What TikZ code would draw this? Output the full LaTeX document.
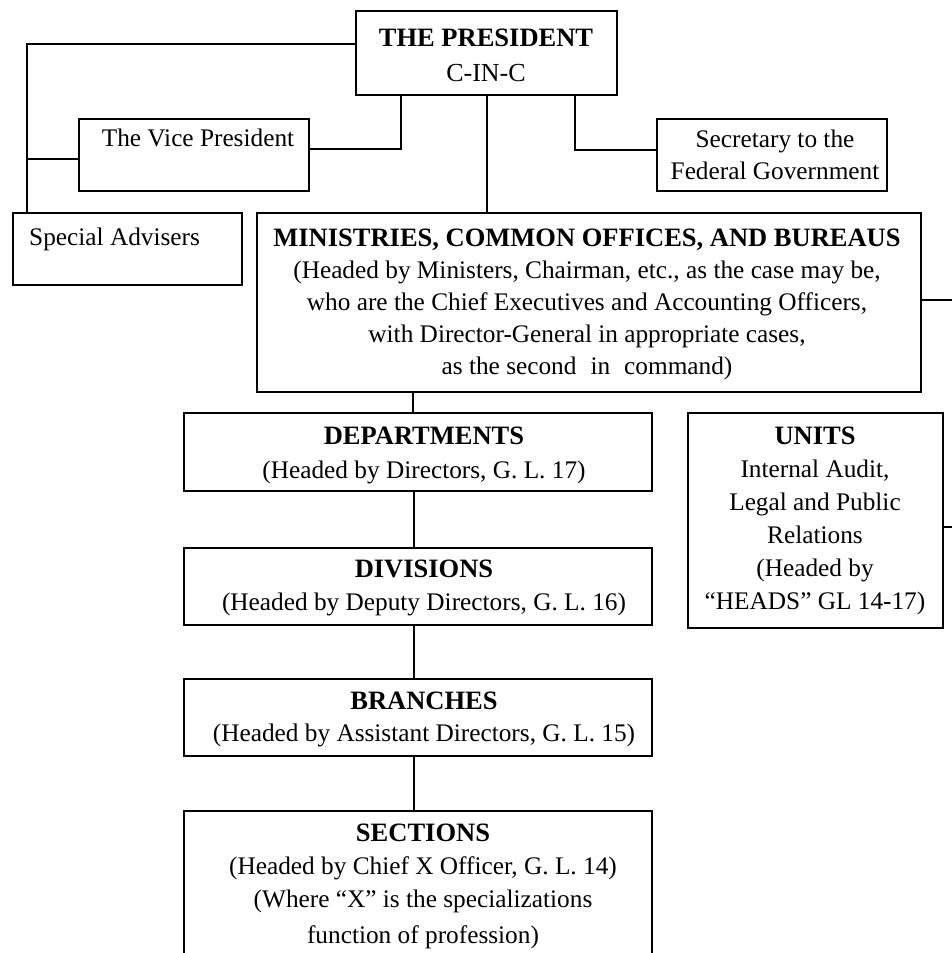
\documentclass[tikz,border=0pt]{standalone}
\usepackage{fontspec}
\setmainfont{Liberation Serif}
\begin{document}
\begin{tikzpicture}[x=1pt,y=-1pt,
  box/.style={draw, rectangle, line width=1.6pt, inner sep=0pt},
  conn/.style={line width=1.6pt},
  txt/.style={anchor=base, inner sep=0pt, font=\fontsize{25.3}{26}\selectfont},
  txtl/.style={anchor=base west, inner sep=0pt, font=\fontsize{25.3}{26}\selectfont},
  ttl/.style={anchor=base, inner sep=0pt, font=\fontsize{26.5}{27}\selectfont\bfseries}]
\clip (0,0) rectangle (952,953);
\fill[white] (0,0) rectangle (952,953);
% boxes
\node[box, minimum width=261pt, minimum height=84pt] (pres) at (486.5,53) {};
\node[box, minimum width=230pt, minimum height=72pt] (vp) at (194,155) {};
\node[box, minimum width=230pt, minimum height=72pt] (sec) at (772,155) {};
\node[box, minimum width=229pt, minimum height=72pt] (sa) at (127.5,249) {};
\node[box, minimum width=664pt, minimum height=179pt] (min) at (589,302.5) {};
\node[box, minimum width=468pt, minimum height=78pt] (dep) at (418,452) {};
\node[box, minimum width=255pt, minimum height=215pt] (units) at (815.5,520.5) {};
\node[box, minimum width=468pt, minimum height=77pt] (div) at (418,586.5) {};
\node[box, minimum width=468pt, minimum height=77pt] (br) at (418,717.5) {};
\node[box, minimum width=468pt, minimum height=168pt] (sect) at (418,895) {};
% texts
\node[ttl] (t1) at (486,46) {THE PRESIDENT};
\node[txt, font=\fontsize{26}{27}\selectfont] (t2) at (486,81) {C-IN-C};
\node[txt] (t3) at (198,146) {The Vice President};
\node[txt] (t4) at (775,147) {Secretary to the};
\node[txt] (t5) at (775,179) {Federal Government};
\node[txtl] (t6) at (29,245) {Special Advisers};
\node[ttl] (t7) at (587,246) {MINISTRIES, COMMON OFFICES, AND BUREAUS};
\node[txt] (t8) at (587,278) {(Headed by Ministers, Chairman, etc., as the case may be,};
\node[txt] (t9) at (587,310) {who are the Chief Executives and Accounting Officers,};
\node[txt] (t10) at (587,342) {with Director-General in appropriate cases,};
\node[txt] (t11) at (587,374) {as the second\hspace{14pt}in\hspace{14pt}command)};
\node[ttl] (t12) at (424,444) {DEPARTMENTS};
\node[txt] (t13) at (424,478) {(Headed by Directors, G. L. 17)};
\node[ttl] (t14) at (815,444) {UNITS};
\node[txt] (t15) at (815,477) {Internal Audit,};
\node[txt] (t16) at (815,510) {Legal and Public};
\node[txt] (t17) at (815,543) {Relations};
\node[txt] (t18) at (815,576) {(Headed by};
\node[txt] (t19) at (815,609) {“HEADS” GL 14-17)};
\node[ttl] (t20) at (424,577) {DIVISIONS};
\node[txt] (t21) at (424,610) {(Headed by Deputy Directors, G. L. 16)};
\node[ttl] (t22) at (424,709) {BRANCHES};
\node[txt] (t23) at (424,741) {(Headed by Assistant Directors, G. L. 15)};
\node[ttl] (t24) at (423,841) {SECTIONS};
\node[txt] (t25) at (423,874) {(Headed by Chief X Officer, G. L. 14)};
\node[txt] (t26) at (423,907) {(Where “X” is the specializations};
\node[txt] (t27) at (423,943) {function of profession)};
% connectors
\draw[conn] ([yshift=9pt]pres.west) -| ([xshift=15pt]sa.north west);
\coordinate (lj) at (28,159);
\draw[conn] (lj) -- (lj -| vp.west);
\draw[conn] ([yshift=6pt]vp.east) -| ([xshift=-85.5pt]pres.south);
\draw[conn] ([xshift=0.5pt]pres.south) -- ([xshift=0.5pt]pres.south |- min.north);
\draw[conn] ([xshift=88.5pt]pres.south) |- ([yshift=5pt]sec.west);
\draw[conn] ([xshift=-5pt]dep.north) -- ([xshift=-5pt]dep.north |- min.south);
\draw[conn] ([xshift=-4pt]dep.south) -- ([xshift=-4pt]div.north);
\draw[conn] ([xshift=-4pt]div.south) -- ([xshift=-4pt]br.north);
\draw[conn] ([xshift=-4pt]br.south) -- ([xshift=-4pt]sect.north);
\coordinate (rbus) at (953,300);
\draw[conn] ([yshift=2.5pt]min.east) -| (rbus) |- ([yshift=-6.5pt]units.east);
\end{tikzpicture}
\end{document}
